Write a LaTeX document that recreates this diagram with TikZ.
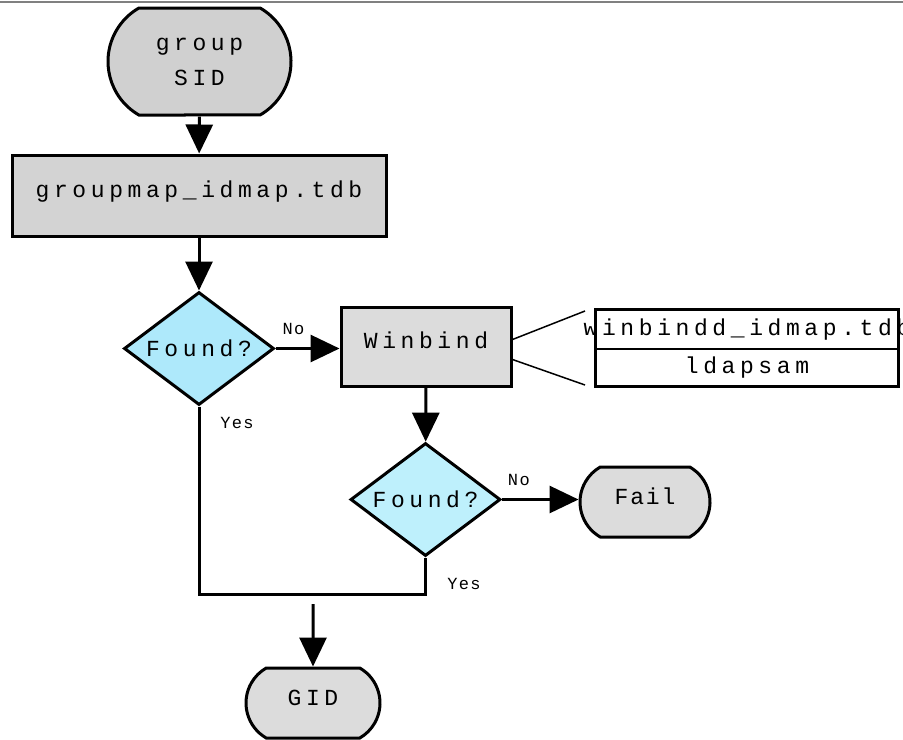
\documentclass[tikz,border=0pt]{standalone}
\usepackage{fontspec}
\usetikzlibrary{shapes.geometric,shapes.misc,arrows.meta,calc}
\newfontfamily\chartfont[LetterSpace=20]{Liberation Mono}
\newfontfamily\failfont[LetterSpace=8]{Liberation Mono}
\definecolor{sidgray}{RGB}{208,208,208}
\definecolor{mapgray}{RGB}{211,211,211}
\definecolor{boxgray}{RGB}{220,220,220}
\definecolor{foundblue}{RGB}{174,233,251}
\definecolor{foundlight}{RGB}{190,240,252}

\begin{document}
\begin{tikzpicture}[x=0.5pt, y=-0.5pt,
  every node/.style = {draw, line width=1.5pt, align=center, inner sep=0pt,
    font=\chartfont\fontsize{11.5}{17.5}\selectfont},
  lifted/.style = {text height=8pt, text depth=6pt},
  terminal/.style = {rounded rectangle, rounded rectangle arc length=120, fill=boxgray},
  process/.style = {rectangle, fill=boxgray, lifted},
  decision/.style = {diamond, minimum width=75pt, minimum height=56.5pt},
  record/.style = {rectangle, line width=0.75pt, minimum width=151pt},
  branch/.style = {draw=none, font=\failfont\fontsize{8.5}{10}\selectfont},
  flow/.style = {line width=1.5pt, -{Triangle[length=14.5pt,width=13.5pt]}}]
  \useasboundingbox (0,0) rectangle (903,739);
  \draw[gray, line width=1pt] (0,2) -- (903,2);

  \node[terminal, fill=sidgray, minimum width=91.5pt, minimum height=53.5pt] (sid) at (199.5,61.5) {group\\SID};
  \node[process, fill=mapgray, minimum width=187pt, minimum height=40.5pt] (gmap) at (199,195.5) {groupmap\_idmap.tdb};
  \node[decision, fill=foundblue] (found1) at (199,348.5) {\makebox[0pt]{Found?}};
  \node[process, minimum width=85pt, minimum height=39.5pt] (winbind) at (426,346.5) {Winbind};
  \node[record, minimum height=19.5pt] (dbtop) at (747,329.5) {\makebox[0pt]{winbindd\_idmap.tdb}};
  \node[record, minimum height=18.5pt] (dbbot) at (747,367.5) {ldapsam};
  \draw[line width=1.5pt] (dbtop.north west) rectangle (dbbot.south east);
  \node[decision, fill=foundlight] (found2) at (425.5,499.5) {\makebox[0pt]{Found?}};
  \node[terminal, lifted, minimum width=65pt, minimum height=35pt, font=\failfont\fontsize{11.5}{13}\selectfont] (fail) at (645,502) {Fail};
  \node[terminal, lifted, minimum width=67pt, minimum height=35pt] (gid) at (313,703) {GID};

  \coordinate (dbtl) at (585,311);
  \coordinate (dbbl) at (585,385);
  \coordinate (merge) at (313,594);
  \coordinate (join) at (313,604);

  \draw[flow] (sid) -- (gmap);
  \draw[flow] (gmap) -- (found1);
  \draw[flow] (found1.east) -- node[branch, pos=0.28, above=6pt] (no1) {No} (found1.east -| winbind.west);
  \draw[flow] (winbind) -- (found2);
  \draw[flow] (found2.east) -- node[branch, pos=0.22, above=6pt] (no2) {No} (found2.east -| fail.west);
  \draw[line width=0.75pt] ($(winbind.east)+(0,-7)$) -- (dbtl);
  \draw[line width=0.75pt] ($(winbind.east)+(0,13)$) -- (dbbl);
  \draw[line width=1.5pt] (found1.south) |- (merge) -| (found2.south);
  \draw[flow] (join) -- (gid);
  \node[branch] (yes1) at (237,423) {Yes};
  \node[branch] (yes2) at (464,584) {Yes};
\end{tikzpicture}
\end{document}
